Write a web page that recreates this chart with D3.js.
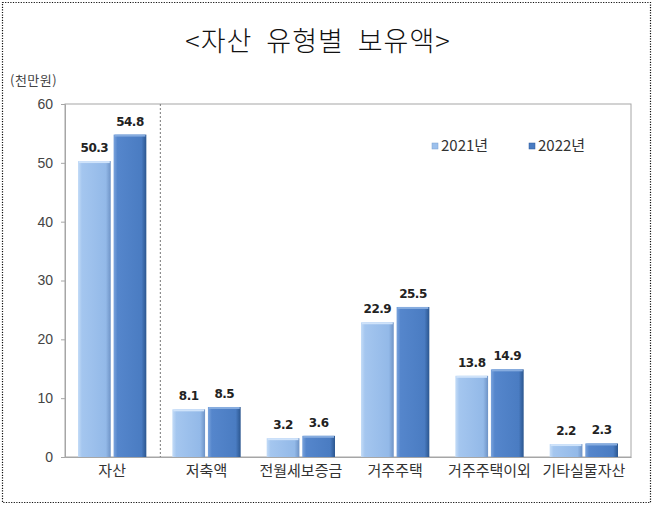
<!DOCTYPE html>
<html>
<head>
<meta charset="utf-8">
<script src="https://cdn.jsdelivr.net/npm/d3@7"></script>
<style>
  body { margin: 0; background: #fff; }
  text { font-family: "Noto Sans CJK KR", "Noto Sans", sans-serif; }
</style>
</head>
<body>
<svg id="chart" width="655" height="509"></svg>
<script>
// Data
const categories = ["자산", "저축액", "전월세보증금", "거주주택", "거주주택이외", "기타실물자산"];
const seriesNames = ["2021년", "2022년"];
const values2021 = [50.3, 8.1, 3.2, 22.9, 13.8, 2.2];
const values2022 = [54.8, 8.5, 3.6, 25.5, 14.9, 2.3];
const yTicks = [0, 10, 20, 30, 40, 50, 60];

const width = 655;
const height = 509;
const margin = { top: 104, right: 24, bottom: 52, left: 65 };

const svg = d3.select("#chart");

// Outer dotted frame
svg.append("rect")
  .attr("x", 2.5).attr("y", 2.5)
  .attr("width", 648).attr("height", 500)
  .attr("fill", "none")
  .attr("stroke", "#111")
  .attr("stroke-width", 1.2)
  .attr("stroke-dasharray", "1.2,1.4");

// Gradients for bevelled bars
const defs = svg.append("defs");
function makeGrad(id, stops) {
  const g = defs.append("linearGradient").attr("id", id)
    .attr("x1", "0%").attr("x2", "100%").attr("y1", "0%").attr("y2", "0%");
  stops.forEach(s => g.append("stop").attr("offset", s[0]).attr("stop-color", s[1]));
}
makeGrad("g2021", [["0%", "#c4dcf7"], ["12%", "#a4c6ef"], ["85%", "#93b9e8"], ["100%", "#6e93c6"]]);
makeGrad("g2022", [["0%", "#7aa3dc"], ["12%", "#5586cc"], ["85%", "#4a7cc2"], ["100%", "#2b568f"]]);
const colors = ["url(#g2021)", "url(#g2022)"];
const topColors = ["#cfe3fa", "#86acdf"];

// Scales
const x0 = d3.scaleBand()
  .domain(categories)
  .range([margin.left, width - margin.right]);

const x1 = d3.scaleBand()
  .domain(seriesNames)
  .range([13, x0.bandwidth() - 13])
  .paddingInner(0.08);

const y = d3.scaleLinear()
  .domain([0, 60])
  .range([height - margin.bottom, margin.top]);

// Plot frame
svg.append("rect")
  .attr("x", margin.left).attr("y", margin.top)
  .attr("width", width - margin.right - margin.left)
  .attr("height", y(0) - margin.top)
  .attr("fill", "none")
  .attr("stroke", "#a6a6a6");

// Dotted separator after 자산
svg.append("line")
  .attr("x1", x0(categories[1]) + 1).attr("x2", x0(categories[1]) + 1)
  .attr("y1", margin.top).attr("y2", y(0))
  .attr("stroke", "#777")
  .attr("stroke-dasharray", "2,2");

// Y axis
const yAxis = svg.append("g")
  .attr("transform", `translate(${margin.left},0)`)
  .call(d3.axisLeft(y).tickValues(yTicks).tickSize(4).tickPadding(8));
yAxis.select(".domain").attr("stroke", "#a6a6a6");
yAxis.selectAll(".tick line").attr("stroke", "#a6a6a6");
yAxis.selectAll("text")
  .attr("font-size", 14).attr("fill", "#444")
  .style("font-family", "'Liberation Sans', Arial, sans-serif");

// X axis labels
const xAxis = svg.append("g")
  .attr("transform", `translate(0,${y(0)})`)
  .call(d3.axisBottom(x0).tickSize(0).tickPadding(8));
xAxis.select(".domain").attr("stroke", "#a6a6a6");
xAxis.selectAll("text").attr("font-size", 15).attr("fill", "#333");

// Bars
const rows = categories.map((c, i) => ({ cat: c, vals: [values2021[i], values2022[i]] }));
const groups = svg.selectAll("g.cat")
  .data(rows)
  .enter().append("g")
  .attr("class", "cat")
  .attr("transform", d => `translate(${x0(d.cat)},0)`);

const barData = d => d.vals.map((v, j) => ({ v, j, s: seriesNames[j] }));

groups.selectAll("rect.bar")
  .data(barData)
  .enter().append("rect")
  .attr("class", "bar")
  .attr("x", d => x1(d.s))
  .attr("y", d => y(d.v))
  .attr("width", x1.bandwidth())
  .attr("height", d => y(0) - y(d.v))
  .attr("fill", d => colors[d.j]);

groups.selectAll("rect.cap")
  .data(barData)
  .enter().append("rect")
  .attr("class", "cap")
  .attr("x", d => x1(d.s) + 1)
  .attr("y", d => y(d.v))
  .attr("width", x1.bandwidth() - 2)
  .attr("height", 2)
  .attr("fill", d => topColors[d.j]);

groups.selectAll("text.val")
  .data(barData)
  .enter().append("text")
  .attr("class", "val")
  .attr("x", d => x1(d.s) + x1.bandwidth() / 2)
  .attr("y", d => y(d.v) - 9)
  .attr("text-anchor", "middle")
  .attr("font-size", 12)
  .attr("font-weight", "bold")
  .attr("fill", "#222")
  .style("font-family", "'DejaVu Sans', sans-serif")
  .style("letter-spacing", "-0.5px")
  .text(d => d.v.toFixed(1));

// Title
svg.append("text")
  .attr("x", 318).attr("y", 51)
  .attr("text-anchor", "middle")
  .attr("font-size", 27)
  .attr("fill", "#111")
  .attr("font-weight", 300)
  .attr("xml:space", "preserve")
  .style("letter-spacing", "1px")
  .text("<자산  유형별  보유액>");

// Unit
svg.append("text")
  .attr("x", 10).attr("y", 85)
  .attr("font-size", 13)
  .attr("fill", "#444")
  .style("letter-spacing", "0.5px")
  .text("(천만원)");

// Legend
const legendX = [432, 529];
seriesNames.forEach((s, i) => {
  svg.append("rect")
    .attr("x", legendX[i]).attr("y", 143)
    .attr("width", 6).attr("height", 6)
    .attr("fill", i === 0 ? "#9cc0ec" : "#4a7cc2")
    .attr("stroke", i === 0 ? "#7a9fd0" : "#2e5a9a")
    .attr("stroke-width", 0.5);
  svg.append("text")
    .attr("x", legendX[i] + 9).attr("y", 151)
    .attr("font-size", 15)
    .attr("fill", "#333")
    .text(s);
});
</script>
</body>
</html>
